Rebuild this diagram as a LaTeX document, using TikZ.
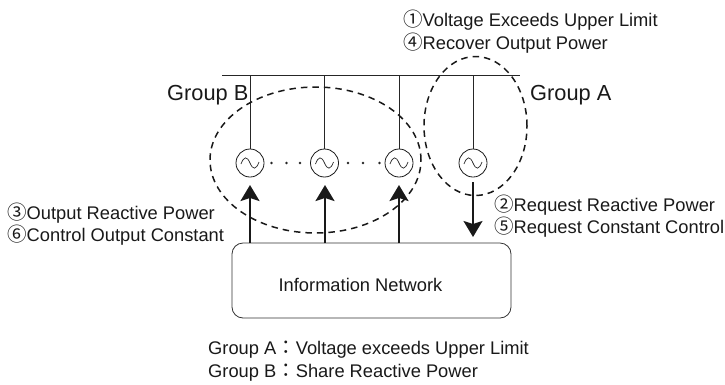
\documentclass[tikz,border=0pt]{standalone}
\usepackage{fontspec}
\setmainfont{Liberation Sans}
\newfontfamily\cjkf{Noto Sans CJK JP}
\usetikzlibrary{arrows.meta,shapes.geometric}
\newcommand{\cn}[1]{{\cjkf\fontsize{19.5}{20}\selectfont #1}}
\tikzset{
  x=1pt,y=-1pt,
  lbl/.style={anchor=base west,inner sep=0pt,font=\fontsize{18.3}{20}\selectfont,text=black!90},
  biglbl/.style={anchor=base west,inner sep=0pt,font=\fontsize{21.8}{24}\selectfont,text=black!90},
  gen/.style={circle,draw=black!90,line width=0.8pt,minimum size=28pt,inner sep=0pt},
  wire/.style={draw=black!85,line width=0.9pt},
  flow/.style={draw=black!90,line width=1.8pt,-{Stealth[length=16pt,width=19pt,inset=3pt]}},
  grp/.style={draw=black!90,line width=1.5pt,dash pattern=on 6.5pt off 5pt},
  wave/.style={draw=black!85,line width=0.7pt},
  dotmark/.style={circle,fill=black!85,inner sep=0pt,minimum size=2.8pt},
  netbox/.style={draw=black!80,line width=0.8pt,rounded corners=11pt,minimum width=279pt,minimum height=75pt,inner sep=0pt}
}
\begin{document}
\begin{tikzpicture}
\useasboundingbox (0,0) rectangle (725,384);
% bus
\coordinate (busL) at (222,75);
\coordinate (busR) at (520,75);
\draw[wire] (busL) -- (busR);
% generators
\node[gen] (g1) at (250,163) {};
\node[gen] (g2) at (324.5,163) {};
\node[gen] (g3) at (399,163) {};
\node[gen] (g4) at (473,163) {};
\foreach \g/\xx in {g1/250,g2/324.5,g3/399,g4/473}{
  \coordinate (t\g) at (\xx,75);
  \draw[wire] (t\g) -- (\g);
  \begin{scope}[shift={(\xx,163)}]
    \draw[wave] (-9,1) .. controls (-6,-7) and (-3,-7) .. (0,0) .. controls (3,7) and (6,7) .. (9,-1);
  \end{scope}
}
% dots
\foreach \xx/\n in {271.5/a,286.5/b,300/c,348/d,363/e,379.5/f}{
  \node[dotmark] (dot\n) at (\xx,163) {};
}
% group ellipses
\node[grp,ellipse,minimum width=211pt,minimum height=146pt,inner sep=0pt] (groupB) at (315.5,160) {};
\node[grp,ellipse,minimum width=103pt,minimum height=139pt,inner sep=0pt] (groupA) at (475.5,126) {};
% network
\node[netbox] (net) at (371.5,280.5) {};
\node[anchor=center,inner sep=0pt,font=\fontsize{18.3}{20}\selectfont,text=black!90] (netlabel) at (360.5,285) {Information Network};
% arrows
\coordinate (upA) at (250,243); \coordinate (upAe) at (250,185);
\coordinate (upB) at (325,243); \coordinate (upBe) at (325,185);
\coordinate (upC) at (399,243); \coordinate (upCe) at (399,185);
\coordinate (dnA) at (473,182); \coordinate (dnAe) at (473,237);
\draw[flow] (upA) -- (upAe);
\draw[flow] (upB) -- (upBe);
\draw[flow] (upC) -- (upCe);
\draw[flow] (dnA) -- (dnAe);
% labels
\node[lbl] (l1) at (403,26) {\cn{①}Voltage Exceeds Upper Limit};
\node[lbl] (l4) at (403,49) {\cn{④}Recover Output Power};
\node[biglbl] (gb) at (167,100) {Group B};
\node[biglbl] (ga) at (530,100) {Group A};
\node[lbl] (l3) at (7,219) {\cn{③}Output Reactive Power};
\node[lbl] (l6) at (7,241) {\cn{⑥}Control Output Constant};
\node[lbl] (l2) at (494,211) {\cn{②}Request Reactive Power};
\node[lbl] (l5) at (494,233) {\cn{⑤}Request Constant Control};
\node[lbl] (ka) at (208,354) {Group A\cn{：}Voltage exceeds Upper Limit};
\node[lbl] (kb) at (208,377) {Group B\cn{：}Share Reactive Power};
\end{tikzpicture}
\end{document}
